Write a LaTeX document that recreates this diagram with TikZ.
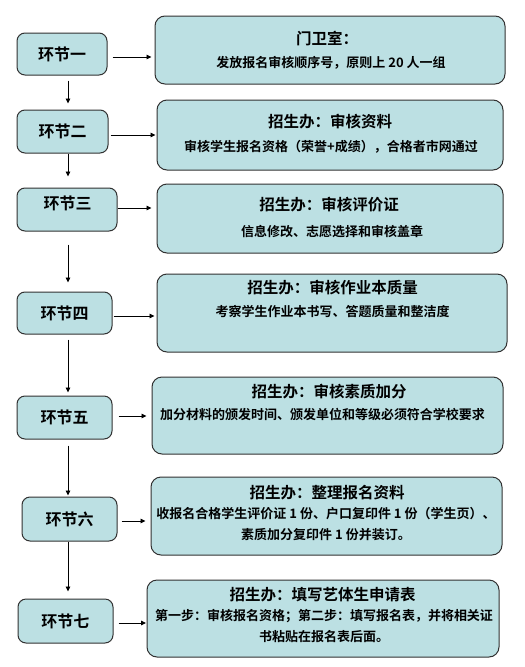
\documentclass[tikz,border=0pt]{standalone}
\usepackage{fontspec}
\newfontfamily\cjkbold{Noto Sans CJK SC Bold}
\usetikzlibrary{positioning,arrows.meta}
\definecolor{boxfill}{RGB}{188,224,227}
\definecolor{boxline}{RGB}{50,50,50}

\begin{document}
\begin{tikzpicture}[
    x=1pt, y=-1pt,
    stepbox/.style={rectangle, rounded corners=8pt, draw=boxline, line width=1pt, fill=boxfill, inner sep=0pt, minimum width=95pt, minimum height=43pt, font=\cjkbold\fontsize{16}{18}\selectfont},
    infobox/.style={rectangle, rounded corners=10pt, draw=boxline, line width=1pt, fill=boxfill, inner sep=0pt, minimum width=350pt, minimum height=77pt},
    headtxt/.style={inner sep=0pt, font=\cjkbold\fontsize{15.5}{18}\selectfont},
    bodytxt/.style={inner sep=0pt, align=center, font=\cjkbold\fontsize{13}{21.5}\selectfont},
    arrow/.style={-{Triangle[length=5pt, width=4.5pt]}, line width=0.9pt},
]
\useasboundingbox (0,0) rectangle (525,667);
\fill[white] (0,0) rectangle (525,667);
\coordinate (spine) at (68,0);

% ================== Steps (left column) ==================
\node[stepbox, minimum width=90pt, minimum height=42pt] (l1) at (62,54) {环节一};
\node[stepbox, minimum width=91pt] (l2) at (62.5,131.5) {环节二};
\node[stepbox, minimum width=100pt] (l3) at (67,209.5) {};
\node[inner sep=0pt, font=\cjkbold\fontsize{16}{18}\selectfont] (t3) at (67.5,203) {环节三};
\node[stepbox, minimum height=42pt] (l4) at (64.5,313) {环节四};
\node[stepbox] (l5) at (64.5,417.5) {环节五};
\node[stepbox, minimum height=44pt] (l6) at (69.5,519) {环节六};
\node[stepbox, minimum height=44pt] (l7) at (65.5,621) {环节七};

% ================== Tasks (right column) ==================
\node[infobox, minimum height=68pt] (r1) at (330,50) {};
\node[headtxt] (h1) at (327,38) {门卫室：};
\node[bodytxt] (b1) at (331,63) {发放报名审核顺序号，原则上 20 人一组};

\node[infobox, minimum width=346pt, minimum height=70pt] (r2) at (330,135) {};
\node[headtxt] (h2) at (330,122) {招生办：审核资料};
\node[bodytxt] (b2) at (331,147) {审核学生报名资格（荣誉+成绩），合格者市网通过};

\node[infobox, minimum width=346pt, minimum height=69pt] (r3) at (330,218.5) {};
\node[headtxt] (h3) at (329,205) {招生办：审核评价证};
\node[bodytxt] (b3) at (332,232) {信息修改、志愿选择和审核盖章};

\node[infobox, minimum height=78pt] (r4) at (332,313) {};
\node[headtxt] (h4) at (332.5,288) {招生办：审核作业本质量};
\node[bodytxt] (b4) at (332.5,312) {考察学生作业本书写、答题质量和整洁度};

\node[infobox, minimum width=351pt] (r5) at (327.5,415.5) {};
\node[headtxt] (h5) at (329,392) {招生办：审核素质加分};
\node[bodytxt] (b5) at (322.5,414) {加分材料的颁发时间、颁发单位和等级必须符合学校要求};

\node[infobox, minimum width=351pt, minimum height=78pt] (r6) at (326.5,516) {};
\node[headtxt] (h6) at (327,493) {招生办：整理报名资料};
\node[bodytxt, anchor=north] (b6) at (326,507) {收报名合格学生评价证 1 份、户口复印件 1 份（学生页）、\\素质加分复印件 1 份并装订。};

\node[infobox, minimum width=352pt] (r7) at (323,618.5) {};
\node[headtxt] (h7) at (322.5,595) {招生办：填写艺体生申请表};
\node[bodytxt, anchor=north] (b7) at (324,609) {第一步：审核报名资格；第二步：填写报名表，并将相关证\\书粘贴在报名表后面。};

% ================== Arrows to tasks ==================
\draw[arrow, shorten <=5pt, shorten >=3pt] ([yshift=-3pt]l1.east) -- ([yshift=-3pt]l1.east -| r1.west);
\draw[arrow, shorten <=2pt, shorten >=1pt] ([yshift=-3.5pt]l2.east) -- ([yshift=-3.5pt]l2.east -| r2.west);
\draw[arrow, shorten >=5pt] ([yshift=1.5pt]l3.east) -- ([yshift=1.5pt]l3.east -| r3.west);
\draw[arrow, shorten <=1pt, shorten >=2pt] ([yshift=-3pt]l4.east) -- ([yshift=-3pt]l4.east -| r4.west);
\draw[arrow, shorten <=6pt, shorten >=5pt] ([yshift=1.5pt]l5.east) -- ([yshift=1.5pt]l5.east -| r5.west);
\draw[arrow, shorten <=4pt, shorten >=5pt] ([yshift=-2pt]l6.east) -- ([yshift=-2pt]l6.east -| r6.west);
\draw[arrow, shorten <=5pt, shorten >=0.5pt] ([yshift=-2pt]l7.east) -- ([yshift=-2pt]l7.east -| r7.west);

% ================== Arrows between steps ==================
\draw[arrow, shorten <=5pt, shorten >=6pt] (l1.south -| spine) -- (l2.north -| spine);
\draw[arrow, shorten >=11pt] (l2.south -| spine) -- (l3.north -| spine);
\draw[arrow, shorten <=13pt, shorten >=9pt] (l3.south -| spine) -- (l4.north -| spine);
\draw[arrow, shorten <=5pt, shorten >=3pt] (l4.south -| spine) -- (l5.north -| spine);
\draw[arrow, shorten <=6pt, shorten >=1pt] (l5.south -| spine) -- (l6.north -| spine);
\draw[arrow, shorten >=7pt] (l6.south -| spine) -- (l7.north -| spine);

\end{tikzpicture}
\end{document}
